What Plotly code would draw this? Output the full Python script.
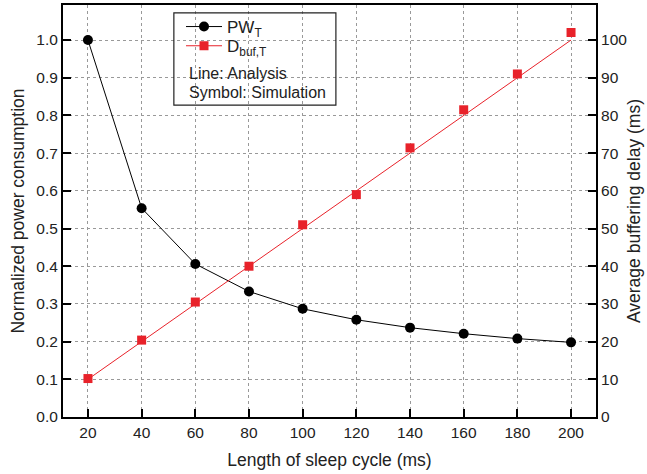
import plotly.graph_objects as go

cycle = [20, 40, 60, 80, 100, 120, 140, 160, 180, 200]
pw_sim = [1.0, 0.554, 0.406, 0.333, 0.287, 0.258, 0.237, 0.221, 0.208, 0.198]
d_sim = [10.2, 20.4, 30.5, 40.0, 51.0, 59.0, 71.4, 81.5, 91.0, 102.0]
d_ana = [10, 20, 30, 40, 50, 60, 70, 80, 90, 100]

FONT = "Liberation Sans, Arial, sans-serif"
TXT = "#222"
RED = "#e8222a"

fig = go.Figure()
fig.add_trace(go.Scatter(x=cycle, y=pw_sim, mode="lines+markers", name="PW<sub>T</sub>",
                         legend="legend",
                         line=dict(color="black", width=1),
                         marker=dict(symbol="circle", size=10, color="black")))
fig.add_trace(go.Scatter(x=cycle, y=d_ana, mode="lines", yaxis="y2", showlegend=False,
                         line=dict(color=RED, width=1)))
fig.add_trace(go.Scatter(x=cycle, y=d_sim, mode="markers", yaxis="y2", showlegend=False,
                         marker=dict(symbol="square", size=9, color=RED)))
fig.add_trace(go.Scatter(x=[None], y=[None], mode="lines+markers", name="D<sub>buf,T</sub>",
                         yaxis="y2", legend="legend2",
                         line=dict(color=RED, width=1),
                         marker=dict(symbol="square", size=9, color=RED)))

axis_common = dict(showline=True, linecolor="black", linewidth=2, ticks="inside",
                   ticklen=8, tickwidth=1.5, tickcolor="black", automargin=False,
                   tickfont=dict(size=15.5, color=TXT), zeroline=False)

leg_common = dict(xanchor="left", yanchor="middle", bgcolor="rgba(0,0,0,0)",
                  font=dict(size=17, color=TXT), itemwidth=36)

fig.update_layout(
    width=647, height=474,
    margin=dict(l=63, r=51, t=5, b=57),
    paper_bgcolor="white", plot_bgcolor="white",
    font=dict(family=FONT, color=TXT),
    showlegend=True,
    legend=dict(x=0.2214, y=0.9466, **leg_common),
    legend2=dict(x=0.2214, y=0.900, **leg_common),
    xaxis=dict(range=[10.7, 209.3], tickvals=cycle, mirror=True,
               showgrid=True, gridcolor="#999", griddash="dot", gridwidth=1,
               title=dict(text="Length of sleep cycle (ms)", font=dict(size=17.5), standoff=14),
               **axis_common),
    yaxis=dict(range=[0, 1.093], dtick=0.1, tickformat=".1f",
               showgrid=True, gridcolor="#999", griddash="dot", gridwidth=1,
               title=dict(text="Normalized power consumption", font=dict(size=17.5), standoff=7),
               **axis_common),
    yaxis2=dict(range=[0, 109.3], dtick=10, overlaying="y", side="right", showgrid=False,
                title=dict(text="Average buffering delay (ms)", font=dict(size=17.5), standoff=1),
                **axis_common),
)

fig.add_shape(type="rect", xref="paper", yref="paper", x0=0.208, x1=0.512, y0=0.757, y1=0.981,
              line=dict(color=TXT, width=1.2), fillcolor="rgba(0,0,0,0)")
fig.add_annotation(xref="paper", yref="paper", x=0.2326, y=0.833, xanchor="left", yanchor="middle",
                   text="Line: Analysis", showarrow=False, font=dict(size=16, color=TXT))
fig.add_annotation(xref="paper", yref="paper", x=0.2326, y=0.787, xanchor="left", yanchor="middle",
                   text="Symbol: Simulation", showarrow=False, font=dict(size=16, color=TXT))

fig.write_html("out.html", config={"displayModeBar": False},
               post_script="document.body.style.margin='0';document.body.style.overflow='hidden';")
